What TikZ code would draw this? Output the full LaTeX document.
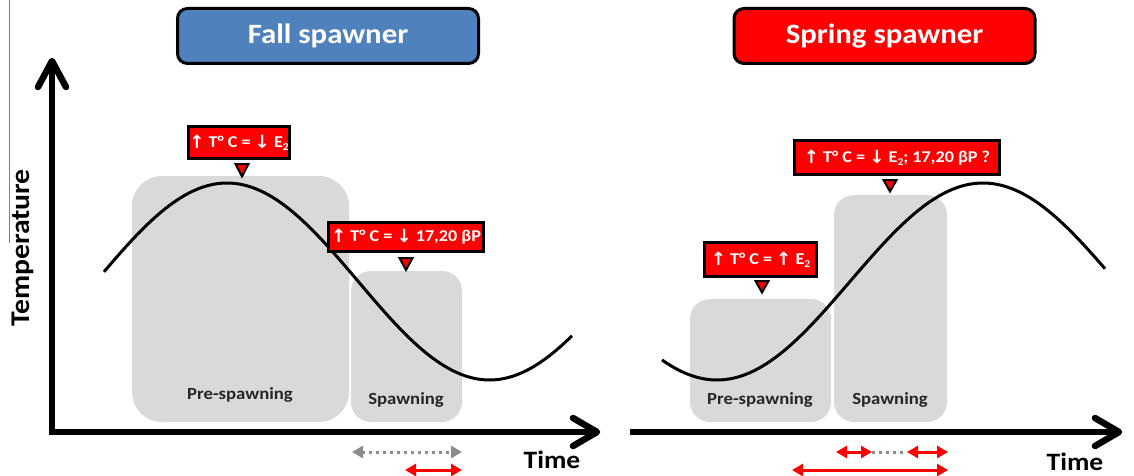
\documentclass[tikz,border=0pt]{standalone}
\usepackage{fontspec}
\setmainfont{Carlito}[FakeStretch=1.1]
\newfontfamily\arrfont{DejaVu Sans}
\usetikzlibrary{arrows.meta}
\definecolor{fallblue}{HTML}{4F81BD}
\definecolor{phasegray}{HTML}{D9D9D9}
\definecolor{dotgray}{HTML}{8C8C8C}
\newcommand\up{\raisebox{-0.1ex}{\scalebox{1.1}{\arrfont\bfseries\char"2191}}}
\newcommand\dn{\raisebox{-0.1ex}{\scalebox{1.1}{\arrfont\bfseries\char"2193}}}
\newcommand\sbtwo{\raisebox{-0.35ex}{\fontsize{10.5}{10.5}\selectfont 2}}
\begin{document}
\begin{tikzpicture}[x=1pt,y=-1pt,
  axis/.style={line width=6.5pt},
  chevron/.style={line width=6.5pt,line cap=round,line join=round},
  title/.style={draw=black,line width=3pt,rounded corners=10pt,minimum width=301pt,minimum height=55pt,inner sep=0pt,text=white,font=\fontsize{28}{30}\selectfont\bfseries},
  phase/.style={fill=phasegray,draw=none,inner sep=0pt},
  phaselabel/.style={font=\fontsize{17}{19}\selectfont\bfseries,text=black!85,inner sep=0pt},
  callout/.style={fill=red,draw=black,line width=2.5pt,text=white,inner sep=0pt,font=\fontsize{16.5}{19}\selectfont\bfseries},
  ptr/.style={fill=red,draw=black,line width=2pt,line join=miter},
  curve/.style={line width=3pt,smooth},
  rangered/.style={red,line width=3pt,{Triangle[length=11pt,width=12pt]}-{Triangle[length=11pt,width=12pt]}},
  rangegray/.style={dotgray,line width=3pt,dash pattern=on 3pt off 4pt,{Triangle[length=11pt,width=12pt]}-{Triangle[length=11pt,width=12pt]}},
  axlabel/.style={font=\fontsize{25}{27}\selectfont\bfseries,inner sep=0pt}
]
\useasboundingbox (0,0) rectangle (1134,476);

% stray thin line
\coordinate (s1) at (9,0);
\coordinate (s2) at (9,243);
\draw[gray,line width=1pt] (s1) -- (s2);

% titles
\node[title,fill=fallblue] (fall) at (328,36) {Fall spawner};
\node[title,fill=red] (spring) at (884.5,36) {Spring spawner};

% phase boxes
\node[phase,rounded corners=30pt,minimum width=217pt,minimum height=246pt] (preL) at (240.5,299) {};
\node[phase,rounded corners=20pt,minimum width=111pt,minimum height=151pt] (spL) at (406.5,346.5) {};
\node[phase,rounded corners=20pt,minimum width=141pt,minimum height=123pt] (preR) at (760.5,360.5) {};
\node[phase,rounded corners=20pt,minimum width=113pt,minimum height=227pt] (spR) at (890.5,308.5) {};
\node[phaselabel] (preLt) at (240,395) {Pre-spawning};
\node[phaselabel] (spLt) at (406,400) {Spawning};
\node[phaselabel] (preRt) at (760,400) {Pre-spawning};
\node[phaselabel] (spRt) at (890,400) {Spawning};

% curves
\draw[curve,domain=104:572,samples=120] plot (\x,{281.5-98.5*cos((\x-227)/525*360)});
\draw[curve,domain=662:1105,samples=120] plot (\x,{281.5-98.5*cos((\x-983)/532*360)});

% axes left
\coordinate (O) at (52,432);
\coordinate (Ytop) at (52,61);
\coordinate (Xend) at (597,432);
\draw[axis] (Ytop) -- (O) -- (Xend);
\coordinate (ya1) at (38,87);
\coordinate (ya2) at (66,87);
\draw[chevron] (ya1) -- (Ytop) -- (ya2);
\coordinate (xa1) at (573,418);
\coordinate (xa2) at (573,446);
\draw[chevron] (xa1) -- (Xend) -- (xa2);
% axis right
\coordinate (O2) at (630,432);
\coordinate (Xend2) at (1119,432);
\draw[axis] (O2) -- (Xend2);
\coordinate (xb1) at (1095,418);
\coordinate (xb2) at (1095,446);
\draw[chevron] (xb1) -- (Xend2) -- (xb2);

% axis labels
\node[axlabel,rotate=90,font=\fontsize{27}{29}\selectfont\bfseries] (temp) at (23,248) {Temperature};
\node[axlabel] (timeL) at (552,460) {Time};
\node[axlabel] (timeR) at (1075,462) {Time};

% callouts
\node[callout,minimum width=101pt,minimum height=32pt] (c1) at (239,142.5) {\up\ T° C = \dn\ E\sbtwo};
\draw[ptr] (235.5,164) -- (248.5,164) -- (242,176.5) -- cycle;
\node[callout,minimum width=155pt,minimum height=29pt] (c2) at (406,237) {\up\ T° C = \dn\ 17,20 βP};
\draw[ptr] (399.5,258) -- (412.5,258) -- (406,270) -- cycle;
\node[callout,minimum width=112pt,minimum height=34pt] (c3) at (760.5,259.5) {\up\ T° C = \up\ E\sbtwo};
\draw[ptr] (755.5,281) -- (768.5,281) -- (762,292.5) -- cycle;
\node[callout,minimum width=205pt,minimum height=34pt] (c4) at (897,157.5) {\up\ T° C = \dn\ E\sbtwo; 17,20 βP ?};
\draw[ptr] (883.5,180) -- (896.5,180) -- (890,191.5) -- cycle;

% ranges left
\coordinate (g1a) at (352,452);
\coordinate (g1b) at (462,452);
\draw[rangegray] (g1a) -- (g1b);
\coordinate (r1a) at (405,470);
\coordinate (r1b) at (462,470);
\draw[rangered] (r1a) -- (r1b);
% ranges right
\coordinate (r2a) at (836,452);
\coordinate (r2b) at (872,452);
\coordinate (r3a) at (907,452);
\coordinate (r3b) at (948,452);
\draw[dotgray,line width=3pt,dash pattern=on 3pt off 4pt] (r2b) -- (r3a);
\draw[rangered] (r2a) -- (r2b);
\draw[rangered] (r3a) -- (r3b);
\coordinate (r4a) at (792,470);
\coordinate (r4b) at (948,470);
\draw[rangered] (r4a) -- (r4b);
\end{tikzpicture}
\end{document}
